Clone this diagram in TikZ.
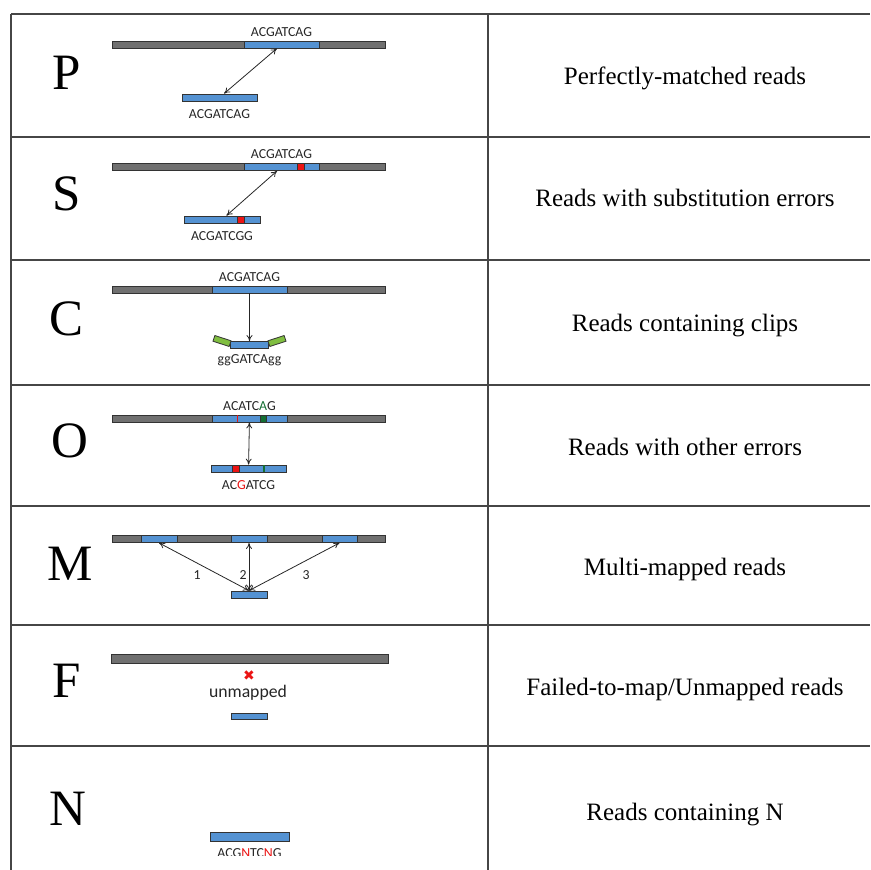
\documentclass[tikz,border=0pt]{standalone}
\usepackage{fontspec}
\setmainfont{Liberation Serif}
\newfontfamily\seqfont{Carlito}
\newfontfamily\symfont{DejaVu Sans}
\usetikzlibrary{positioning, arrows.meta}
\definecolor{refgray}{RGB}{112,112,112}
\definecolor{hitblue}{RGB}{84,146,210}
\definecolor{clipgreen}{RGB}{128,190,64}
\definecolor{errred}{RGB}{235,20,20}
\definecolor{subgreen}{RGB}{20,110,50}
\definecolor{tabgray}{RGB}{70,70,70}

\begin{document}
\begin{tikzpicture}[x=1pt, y=-1pt]
\tikzstyle{genome}=[rectangle, draw=black!80, fill=refgray, line width=0.8pt, minimum height=7pt, inner sep=0pt]
\tikzstyle{read}=[genome, fill=hitblue]
\tikzstyle{errbox}=[genome, fill=errred, minimum width=7pt]
\tikzstyle{softclip}=[genome, fill=clipgreen, minimum width=17pt, minimum height=6pt]
\tikzstyle{seq}=[font=\seqfont\fontsize{13.8}{15}\selectfont, inner sep=0pt, text=black!85]
\tikzstyle{class}=[font=\fontsize{51}{56}\selectfont, inner sep=0pt, anchor=base]
\tikzstyle{desc}=[font=\fontsize{25}{30}\selectfont, inner sep=0pt, anchor=base]
\tikzstyle{tabline}=[line width=1.5pt, draw=tabgray]
\tikzstyle{connect}=[{To[length=6pt,width=6pt]}-{To[length=6pt,width=6pt]}, line width=0.8pt, black!85]
\tikzstyle{single}=[-{To[length=6pt,width=6pt]}, line width=0.8pt, black!85]
\useasboundingbox (0,0) rectangle (870,870);
% table
\coordinate (tl) at (11,14);
\coordinate (bl) at (11,870);
\coordinate (tm) at (488,14);
\coordinate (bm) at (488,870);
\draw[tabline] (tl) -- (bl) (tm) -- (bm);
\foreach \y in {14,137,260,385,506,625,746}
  \draw[tabline] (11,\y) -- (870,\y);
% class letters
\node[class] (lblP) at (67,89) {P};
\node[class] (lblS) at (67,210) {S};
\node[class] (lblC) at (67,335) {C};
\node[class] (lblO) at (70,457) {O};
\node[class] (lblM) at (70,580) {M};
\node[class] (lblF) at (67,697) {F};
\node[class] (lblN) at (68,825) {N};
% descriptions
\node[desc] (descP) at (685,84) {Perfectly-matched reads};
\node[desc] (descS) at (685,206) {Reads with substitution errors};
\node[desc] (descC) at (685,331) {Reads containing clips};
\node[desc] (descO) at (685,455) {Reads with other errors};
\node[desc] (descM) at (685,575) {Multi-mapped reads};
\node[desc] (descF) at (685,695) {Failed-to-map/Unmapped reads};
\node[desc] (descN) at (685,820) {Reads containing N};
% P
\node[genome, minimum width=273pt] (genP) at (248.5,44.5) {};
\node[read, minimum width=75pt] (hitP) at (281.5,44.5) {};
\node[seq, above=4pt of hitP] (seqPa) {ACGATCAG};
\node[read, minimum width=75pt] (readP) at (219.5,97.5) {};
\node[seq, below=8pt of readP] (seqPb) {ACGATCAG};
\path (hitP) edge [connect] (readP);
% S
\node[genome, minimum width=273pt] (genS) at (248.5,167) {};
\node[read, minimum width=75pt] (hitS) at (281.5,167) {};
\node[errbox] (errSa) at (300.5,167) {};
\node[seq, above=4pt of hitS] (seqSa) {ACGATCAG};
\node[read, minimum width=76pt] (readS) at (222,219.5) {};
\node[errbox] (errSb) at (240.5,219.5) {};
\node[seq, below=8pt of readS] (seqSb) {ACGATCGG};
\path (hitS) edge [connect] (readS);
% C
\node[genome, minimum width=273pt] (genC) at (248.5,289.5) {};
\node[read, minimum width=75pt] (hitC) at (249.5,289.5) {};
\node[seq, above=4pt of hitC] (seqCa) {ACGATCAG};
\node[read, minimum width=38pt] (readC) at (249.5,345) {};
\node[softclip, rotate=-18] (clipL) at (222,341) {};
\node[softclip, rotate=18] (clipR) at (277,341) {};
\node[seq, below=5pt of readC] (seqCb) {ggGATCAgg};
\draw[single] (hitC) -- (readC);
% O
\node[genome, minimum width=273pt] (genO) at (248.5,418.5) {};
\node[read, minimum width=75pt] (hitO) at (249.5,418.5) {};
\node[errbox, draw=none, minimum width=1.2pt] (delO) at (237.5,418.5) {};
\node[errbox, fill=subgreen, minimum width=6pt] (subO) at (263,418.5) {};
\node[seq, above=4pt of hitO] (seqOa) {ACATC{\color{subgreen}A}G};
\node[read, minimum width=75pt] (readO) at (248.5,468.5) {};
\node[errbox] (insO) at (235.5,468.5) {};
\node[errbox, draw=none, fill=subgreen, minimum width=1.2pt] (gapO) at (264,468.5) {};
\node[seq, below=8pt of readO] (seqOb) {AC{\color{errred}G}ATCG};
\path (hitO) edge [connect] (readO);
% M
\node[genome, minimum width=273pt] (genM) at (248.5,539) {};
\node[read, minimum width=36pt] (hitMa) at (159,539) {};
\node[read, minimum width=36pt] (hitMb) at (249,539) {};
\node[read, minimum width=35pt] (hitMc) at (339.5,539) {};
\node[read, minimum width=36pt] (readM) at (249,594.5) {};
\path (readM.north) edge [connect] (hitMa.south)
      (readM.north) edge [connect] (hitMb.south)
      (readM.north) edge [connect] (hitMc.south);
\node[seq] (numA) at (197,575) {1};
\node[seq] (numB) at (243,575) {2};
\node[seq] (numC) at (306,575) {3};
% F
\node[genome, minimum width=277pt, minimum height=9pt] (genF) at (249.5,658.5) {};
\node[font=\symfont\fontsize{14}{14}\selectfont, text=errred, inner sep=0pt] (failX) at (249,676) {✖};
\node[seq, font=\seqfont\fontsize{17.7}{20}\selectfont] (unmapF) at (248,693) {unmapped};
\node[read, minimum width=36pt, minimum height=6pt] (readF) at (249,716) {};
% N
\node[read, minimum width=79pt, minimum height=9pt] (readN) at (249.5,836.5) {};
\begin{scope}
\clip (0,746) rectangle (870,855);
\node[seq, below=7pt of readN] (seqN) {ACG{\color{errred}N}TC{\color{errred}N}G};
\end{scope}
\end{tikzpicture}
\end{document}
